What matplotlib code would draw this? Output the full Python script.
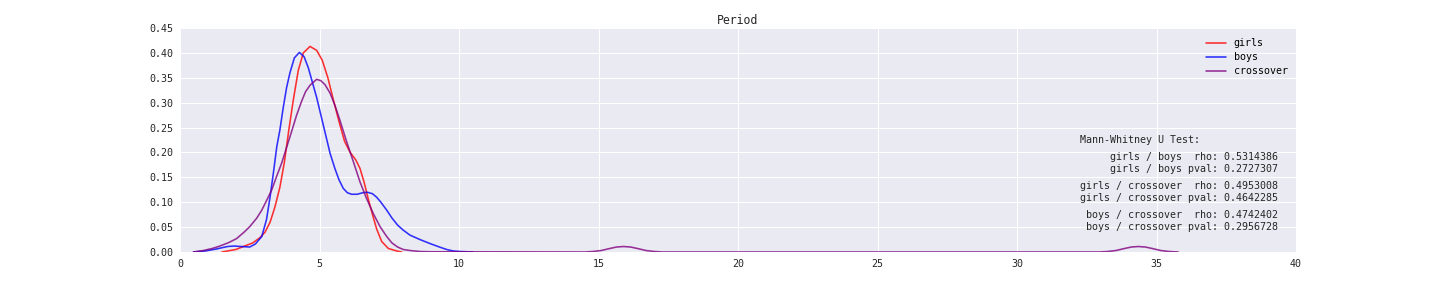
import matplotlib
matplotlib.use("Agg")
import matplotlib.pyplot as plt

# Density curves (x: period, y: density)
girls_x = [1.5, 2.0, 2.27, 2.6, 2.87, 3.05, 3.23, 3.4, 3.58, 3.74, 3.9, 4.06, 4.24, 4.42, 4.66, 4.90, 5.1, 5.3, 5.5,
           5.7, 5.9, 6.1, 6.3, 6.45, 6.6, 6.75, 6.9, 7.05, 7.23, 7.47, 7.77, 7.95]
girls_y = [0.0, 0.005, 0.011, 0.018, 0.029, 0.040, 0.060, 0.090, 0.130, 0.180, 0.245, 0.305, 0.365, 0.400, 0.413, 0.405, 0.385, 0.350, 0.305,
           0.262, 0.222, 0.200, 0.185, 0.168, 0.140, 0.106, 0.075, 0.046, 0.021, 0.007, 0.002, 0.0]

boys_x = [0.48, 0.9, 1.3, 1.7, 1.95, 2.2, 2.5, 2.7, 2.93, 3.1, 3.23, 3.35, 3.47, 3.58, 3.70, 3.82, 3.94, 4.1, 4.28, 4.45, 4.6,
          4.75, 4.9, 5.05, 5.2, 5.38, 5.55, 5.7, 5.85, 6.0, 6.15, 6.35, 6.55, 6.72, 6.9, 7.05, 7.2, 7.41, 7.6, 7.8, 8.0,
          8.24, 8.6, 8.96, 9.3, 9.56, 9.8, 10.04, 10.5]
boys_y = [0.0, 0.002, 0.006, 0.011, 0.012, 0.011, 0.010, 0.016, 0.031, 0.065, 0.111, 0.160, 0.212, 0.245, 0.290, 0.330, 0.360, 0.390, 0.401, 0.392, 0.370,
          0.340, 0.310, 0.275, 0.240, 0.198, 0.168, 0.145, 0.128, 0.119, 0.116, 0.116, 0.119, 0.120, 0.117, 0.110, 0.100, 0.084, 0.068, 0.054, 0.044,
          0.034, 0.025, 0.017, 0.010, 0.005, 0.002, 0.001, 0.0]

cross_x = [0.48, 0.84, 1.15, 1.43, 1.75, 2.03, 2.3, 2.5, 2.75, 2.93, 3.1, 3.29, 3.45, 3.64, 3.82, 4.0, 4.18, 4.36, 4.5, 4.66,
           4.9, 5.05, 5.2, 5.38, 5.55, 5.73, 5.97, 6.21, 6.45, 6.69, 6.93, 7.17, 7.41, 7.6, 7.8, 8.0, 8.24, 8.6, 8.96,
           14.5, 14.8, 15.1, 15.4, 15.65, 15.9, 16.15, 16.4, 16.7, 17.0, 17.3,
           32.95, 33.25, 33.55, 33.85, 34.1, 34.35, 34.6, 34.85, 35.15, 35.45, 35.78]
cross_y = [0.0, 0.003, 0.007, 0.012, 0.019, 0.027, 0.040, 0.051, 0.068, 0.084, 0.103, 0.125, 0.150, 0.178, 0.210, 0.242, 0.275, 0.303, 0.322, 0.335,
           0.347, 0.344, 0.336, 0.319, 0.295, 0.265, 0.222, 0.182, 0.141, 0.107, 0.077, 0.051, 0.031, 0.018, 0.010, 0.005, 0.003, 0.001, 0.0005,
           0.0, 0.001, 0.003, 0.007, 0.010, 0.011, 0.010, 0.007, 0.003, 0.001, 0.0,
           0.0, 0.001, 0.003, 0.007, 0.010, 0.011, 0.010, 0.007, 0.003, 0.001, 0.0]

stats_lines = [
    ["girls / boys  rho: 0.5314386", "girls / boys pval: 0.2727307"],
    ["girls / crossover  rho: 0.4953008", "girls / crossover pval: 0.4642285"],
    ["boys / crossover  rho: 0.4742402", "boys / crossover pval: 0.2956728"],
]

x_ticks = [0, 5, 10, 15, 20, 25, 30, 35, 40]
y_ticks = [0.00, 0.05, 0.10, 0.15, 0.20, 0.25, 0.30, 0.35, 0.40, 0.45]

plt.rcParams['font.family'] = ['DejaVu Sans Mono']

fig = plt.figure(figsize=(20, 4), dpi=72)
ax = fig.add_axes([0.125, 0.125, 0.775, 0.7778])
ax.set_facecolor('#EAEAF2')
for s in ax.spines.values():
    s.set_visible(False)
ax.grid(True, color='white', linewidth=1.0)
ax.set_axisbelow(True)

kw = dict(alpha=0.8, lw=1.6, solid_joinstyle='round', solid_capstyle='round')
ax.plot(girls_x, girls_y, color='red', label='girls', **kw)
ax.plot(boys_x, boys_y, color='blue', label='boys', **kw)
ax.plot(cross_x, cross_y, color='purple', label='crossover', **kw)

ax.set_xlim(0, 40)
ax.set_ylim(0, 0.45)
ax.set_xticks(x_ticks)
ax.set_yticks(y_ticks)
ax.set_xticklabels([str(v) for v in x_ticks])
ax.set_yticklabels(["%.2f" % v for v in y_ticks])
ax.tick_params(length=0, labelsize=10, colors='#262626', pad=7)
ax.set_title("Period", fontsize=11.5, color='#262626', pad=4)

leg = ax.legend(loc='upper right', frameon=False, fontsize=10, handlelength=2.0,
                bbox_to_anchor=(1.0005, 0.995), labelspacing=0.4)

def px_to_ax(px, py):
    return ((px - 180) / 1116.0, (252 - py) / 224.0)

hx, hy = px_to_ax(1080, 140)
ax.text(hx, hy, "Mann-Whitney U Test:", transform=ax.transAxes, ha='left', va='center',
        fontsize=10, color='#262626')
ys = [(157, 169), (186, 198), (215, 227)]
for (l1, l2), (y1, y2) in zip(stats_lines, ys):
    for txt, yy in ((l1, y1), (l2, y2)):
        tx, ty = px_to_ax(1278, yy)
        ax.text(tx, ty, txt, transform=ax.transAxes, ha='right', va='center',
                fontsize=10, color='#262626')

fig.savefig("out.png", dpi=72)
